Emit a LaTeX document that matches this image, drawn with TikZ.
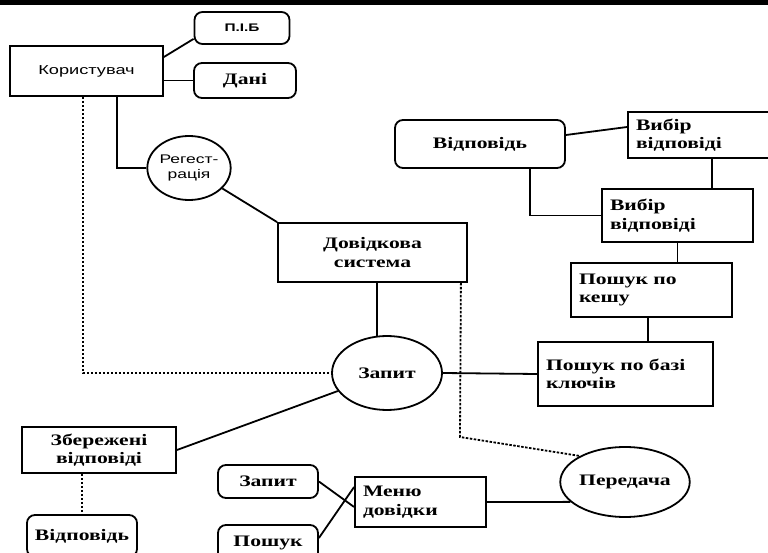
\documentclass[tikz,border=0pt]{standalone}
\usepackage{fontspec}
\setmainfont{Liberation Serif}[FakeStretch=1.35]
\newfontfamily\widesans{Liberation Sans}[FakeStretch=1.4]
\usetikzlibrary{shapes.geometric}

\begin{document}
\begin{tikzpicture}[x=1pt,y=-1pt,
  line width=1.8pt,
  sq/.style={draw, rectangle, inner xsep=8pt, inner ysep=0pt,
    font=\fontsize{16}{18.5}\selectfont\bfseries},
  rbox/.style={sq, rounded corners=8pt},
  oval/.style={draw, ellipse, inner sep=0pt,
    font=\fontsize{16}{18.5}\selectfont\bfseries},
  sanslabel/.style={font=\widesans\fontsize{13}{15}\selectfont},
  link/.style={draw, line width=1.8pt},
  dots/.style={draw, line width=1.8pt, dash pattern=on 2.5pt off 1.5pt}]

\useasboundingbox (0,0) rectangle (768,553);
\fill[black] (0,0) rectangle (768,5);

% user side
\node[sq, sanslabel, minimum width=153pt, minimum height=50pt] (user) at (86.5,71) {Користувач};
\node[rbox, sanslabel, font=\widesans\fontsize{11}{13}\selectfont\bfseries,
  minimum width=95pt, minimum height=32pt] (pib) at (242,28) {П.І.Б};
\node[rbox, minimum width=102pt, minimum height=35pt] (dani) at (245,80.5) {Дані};
\node[oval, sanslabel, font=\widesans\fontsize{12.5}{15}\selectfont, align=center,
  minimum width=82pt, minimum height=64pt] (reg) at (189,168) {Регест-\\рація};

% core
\node[sq, align=center, minimum width=189pt, minimum height=59pt] (help) at (372.5,252.5) {Довідкова\\система};
\node[oval, minimum width=110pt, minimum height=74pt] (query) at (387,373) {Запит};

% answer chain
\node[rbox, minimum width=170pt, minimum height=48pt] (ans1) at (480,144) {Відповідь};
\node[sq, align=left, text width=126pt, minimum height=46pt] (choice1) at (699,135) {Вибір\\відповіді};
\node[sq, align=left, text width=135pt, minimum height=53pt] (choice2) at (677.5,215.5) {Вибір\\відповіді};
\node[sq, align=left, text width=145pt, minimum height=54pt] (cache) at (651.5,290) {Пошук по\\кешу};
\node[sq, align=left, text width=159pt, minimum height=64pt] (keys) at (625.5,374) {Пошук по базі\\ключів};

% lower part
\node[sq, align=center, minimum width=154pt, minimum height=46pt] (saved) at (99,450) {Збережені\\відповіді};
\node[rbox, minimum width=110pt, minimum height=42pt] (ans2) at (82,536) {Відповідь};
\node[rbox, minimum width=100pt, minimum height=33pt] (q2) at (268,481.5) {Запит};
\node[rbox, minimum width=100pt, minimum height=36pt] (search) at (268,543) {Пошук};
\node[sq, align=left, text width=115pt, minimum height=50pt] (menu) at (420.5,502) {Меню\\довідки};
\node[oval, minimum width=114pt, minimum height=70pt] (transfer) at (625,482) {Передача};

\coordinate (bend) at (460,437);

% connectors
\path[link] ([yshift=14pt]user.east) -- ([yshift=6pt]pib.south west);
\path[link] (user.east |- dani.west) -- (dani.west);
\path[link] ([xshift=30.5pt]user.south) |- (reg.west);
\path[dots] ([xshift=-3.5pt]user.south) |- (query.west);
\path[link] (reg) -- (help.north west);
\path[link] ([xshift=4.5pt]help.south) -- ([xshift=4.5pt,yshift=-1pt]help.south |- query.north);
\path[dots] ([xshift=-7pt]help.south east) -- (bend) -- (transfer.150);
\path[link] (query.east) -- (keys.west);
\path[link] ([xshift=-3.5pt]cache.south) -- ([xshift=-3.5pt]cache.south |- keys.north);
\path[link] (choice2.south) -- (choice2.south |- cache.north);
\path[link] ([xshift=13pt]choice1.south) -- ([xshift=13pt]choice1.south |- choice2.north);
\path[link] ([yshift=9pt]ans1.east) -- ([yshift=8pt]choice1.west);
\path[link] ([xshift=50pt]ans1.south) |- (choice2.west);
\path[link] (saved.east) -- (query);
\path[dots] (ans2.north |- saved.south) -- (ans2.north);
\path[link] (q2.east) -- ([yshift=-5pt]menu.west);
\path[link] ([yshift=5pt]search.east) -- ([yshift=15pt]menu.west);
\path[link] (menu.east) -- (transfer.200);
\end{tikzpicture}
\end{document}
